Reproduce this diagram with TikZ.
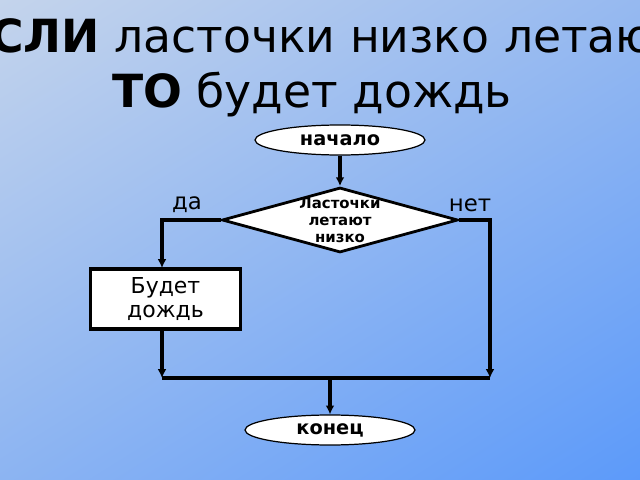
\documentclass[tikz,border=0pt]{standalone}
\usepackage{fontspec}
\setmainfont{DejaVu Sans}
\usetikzlibrary{shapes.geometric,arrows.meta,shadings}
\definecolor{bgul}{RGB}{196,212,236}
\definecolor{bglr}{RGB}{92,154,250}
\definecolor{bgur}{RGB}{150,185,240}
\definecolor{bgll}{RGB}{140,180,242}
\begin{document}
\begin{tikzpicture}[x=0.02cm,y=-0.02cm,
  conn/.style={line width=2pt,-{Latex[length=5pt,width=5pt]}},
  plain/.style={line width=2pt},
  oval/.style={ellipse,draw=black,line width=0.7pt,fill=white,minimum width=3.4cm,minimum height=0.6cm,inner sep=0pt,font=\bfseries\fontsize{11}{12}\selectfont},
  lbl/.style={font=\fontsize{13}{14}\selectfont}]
\useasboundingbox (0,0) rectangle (640,480);
\clip (0,0) rectangle (640,480);
\shade[upper left=bgul,lower right=bglr,upper right=bgur,lower left=bgll] (0,0) rectangle (640,480);
\node[anchor=base] (t1) at (320,52) {\fontsize{26}{30}\selectfont\textbf{ЕСЛИ} ласточки низко летают};
\node[anchor=base] (t2) at (312,108) {\fontsize{26}{30}\selectfont\textbf{ТО} будет дождь};
\node[oval] (start) at (340,140) {начало};
\node[diamond,draw=black,line width=1.6pt,fill=white,minimum width=4.72cm,minimum height=1.3cm,aspect=3.6,inner sep=0pt] (cond) at (340,220) {};
\node[align=center,font=\bfseries\fontsize{8.5}{9.5}\selectfont] (ct) at (340,220) {Ласточки\\летают\\низко};
\node[draw=black,line width=2pt,fill=white,minimum width=3.0cm,minimum height=1.2cm,align=center,font=\fontsize{12.5}{14}\selectfont,inner sep=0pt] (box) at (165.5,299) {Будет\\дождь};
\node[oval] (end) at (330,430) {конец};
\node[lbl] (yes) at (187,205) {да};
\node[lbl] (no) at (470,205) {нет};
\coordinate (jl) at (162,378);
\coordinate (jr) at (490,378);
\coordinate (jm) at (330,378);
\draw[conn] (start) -- (cond.north);
\draw[conn] (cond.west) -- (162,220) -- (162,268);
\draw[conn] (cond.east) -- (490,220) -- (jr);
\draw[conn] (162,330) -- (jl);
\draw[plain] (jl) -- (jr);
\draw[conn] (jm) -- (end);
\end{tikzpicture}
\end{document}
